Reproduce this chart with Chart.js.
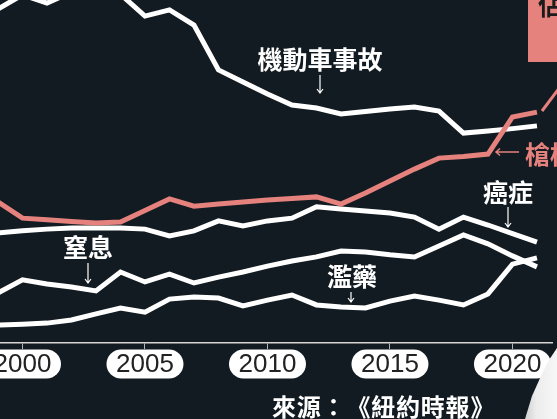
<!DOCTYPE html>
<html>
<head>
<meta charset="utf-8">
<script src="https://cdn.jsdelivr.net/npm/chart.js@4"></script>
<style>
  html, body { margin: 0; padding: 0; background: #121b21; overflow: hidden; }
  #wrap { width: 557px; height: 419px; position: relative; }
</style>
</head>
<body>
<div id="wrap"><canvas id="c"></canvas></div>
<script>
// child death rates, per 100k
const years = [1999, 2000, 2001, 2002, 2003, 2004, 2005, 2006, 2007, 2008, 2009, 2010,
               2011, 2012, 2013, 2014, 2015, 2016, 2017, 2018, 2019, 2020, 2021];
const tickYears = [2000, 2005, 2010, 2015, 2020];

const guns         = [4.11, 3.64, 3.59, 3.54, 3.50, 3.53, 3.86, 4.20, 3.99, 4.05, 4.11, 4.17,
                      4.21, 4.26, 4.05, 4.37, 4.72, 5.07, 5.39, 5.44, 5.51, 6.59, 6.73];
const motorVehicle = [9.74, 10.15, 9.91, 10.23, 10.35, 10.17, 9.53, 9.71, 9.27, 7.96, 7.61, 7.26,
                      6.94, 6.85, 6.68, 6.75, 6.82, 6.88, 6.76, 6.12, 6.18, 6.25, 6.33];
const cancer       = [3.21, 3.27, 3.32, 3.35, 3.35, 3.35, 3.32, 3.12, 3.27, 3.56, 3.41, 3.56,
                      3.64, 3.97, 3.91, 3.85, 3.79, 3.67, 3.32, 3.67, 3.44, 3.19, 2.94];
const suffocation  = [1.46, 1.84, 1.72, 1.63, 1.52, 2.07, 1.78, 2.01, 1.75, 1.92, 2.07, 2.24,
                      2.39, 2.51, 2.68, 2.65, 2.57, 2.51, 2.83, 3.15, 2.89, 2.54, 2.22];
const overdose     = [0.52, 0.55, 0.58, 0.67, 0.85, 1.02, 0.90, 1.28, 1.34, 1.31, 1.08, 1.25,
                      1.40, 1.11, 1.05, 1.02, 1.22, 1.37, 1.25, 1.11, 1.43, 2.30, 2.48];

const BG = '#121b21';
const PINK = '#e5827d';
const CJK = '"Noto Sans CJK TC", "Noto Sans CJK SC", sans-serif';

const pts = vals => years.map((y, i) => ({ x: y, y: vals[i] }));
const ds = (vals, color) => ({ data: pts(vals), borderColor: color, borderWidth: 5,
    pointRadius: 0, tension: 0, borderJoinStyle: 'miter', borderCapStyle: 'butt' });

function vArrow(ctx, x, y1, y2, color) {
    ctx.strokeStyle = color; ctx.lineWidth = 1.2;
    ctx.beginPath(); ctx.moveTo(x, y1); ctx.lineTo(x, y2);
    ctx.moveTo(x - 3, y2 - 4); ctx.lineTo(x, y2); ctx.lineTo(x + 3, y2 - 4);
    ctx.stroke();
}
function label(ctx, text, x, y, color, align) {
    ctx.fillStyle = color; ctx.font = 'bold 25px ' + CJK;
    ctx.textAlign = align || 'center'; ctx.textBaseline = 'middle';
    ctx.fillText(text, x, y);
}

const decor = {
    id: 'decor',
    beforeDraw(chart) {
        const ctx = chart.ctx;
        ctx.save(); ctx.fillStyle = BG;
        ctx.fillRect(0, 0, chart.width, chart.height); ctx.restore();
    },
    afterDraw(chart) {
        const ctx = chart.ctx, xs = chart.scales.x;
        ctx.save();
        // year pills
        xs.ticks.forEach(t => {
            const cx = xs.getPixelForValue(t.value), w = 77, h = 29, cy = 364;
            ctx.fillStyle = '#ffffff';
            ctx.beginPath();
            ctx.moveTo(cx - w / 2 + h / 2, cy - h / 2);
            ctx.lineTo(cx + w / 2 - h / 2, cy - h / 2);
            ctx.arc(cx + w / 2 - h / 2, cy, h / 2, -Math.PI / 2, Math.PI / 2);
            ctx.lineTo(cx - w / 2 + h / 2, cy + h / 2);
            ctx.arc(cx - w / 2 + h / 2, cy, h / 2, Math.PI / 2, Math.PI * 1.5);
            ctx.fill();
            ctx.fillStyle = '#222';
            ctx.font = '26px "Liberation Sans", Arial, sans-serif';
            ctx.textAlign = 'center'; ctx.textBaseline = 'middle';
            ctx.fillText(String(t.value), cx, cy + 1);
        });

        // series labels
        label(ctx, '機動車事故', 320, 59, '#ffffff');
        vArrow(ctx, 320, 75, 93, '#ffffff');
        label(ctx, '癌症', 508, 192, '#ffffff');
        vArrow(ctx, 508, 207, 227, '#ffffff');
        label(ctx, '窒息', 88, 247, '#ffffff');
        vArrow(ctx, 88, 263, 283, '#ffffff');
        label(ctx, '濫藥', 352, 276, '#ffffff');
        vArrow(ctx, 351, 292, 302, '#ffffff');

        // guns label with left arrow
        label(ctx, '槍枝', 525, 154, PINK, 'left');
        ctx.strokeStyle = PINK; ctx.lineWidth = 1.5;
        ctx.beginPath(); ctx.moveTo(519, 152); ctx.lineTo(496, 152);
        ctx.moveTo(500, 148.5); ctx.lineTo(496, 152); ctx.lineTo(500, 155.5);
        ctx.stroke();

        // callout box top right
        ctx.fillStyle = PINK; ctx.fillRect(528, 0, 29, 62);
        ctx.strokeStyle = PINK; ctx.lineWidth = 3;
        ctx.beginPath(); ctx.moveTo(542, 111); ctx.lineTo(560, 87); ctx.stroke();
        ctx.fillStyle = '#1b1b1b'; ctx.font = 'bold 25px ' + CJK;
        ctx.textAlign = 'left'; ctx.textBaseline = 'alphabetic';
        ctx.fillText('佔', 538, 15);

        // source, one glyph at a time so the full-width punctuation keeps its width
        ctx.fillStyle = '#ffffff'; ctx.font = 'bold 24px ' + CJK;
        ctx.textAlign = 'center'; ctx.textBaseline = 'middle';
        Array.from('來源：《紐約時報》').forEach((ch, i) => {
            ctx.fillText(ch, 284 + i * 24.8, 407);
        });

        // light patch bottom right
        const g = ctx.createLinearGradient(522, 0, 557, 0);
        g.addColorStop(0, '#c8c8c8'); g.addColorStop(0.4, '#ececec'); g.addColorStop(1, '#f7f7f7');
        ctx.fillStyle = g;
        ctx.beginPath();
        ctx.moveTo(557, 348); ctx.lineTo(549, 360); ctx.lineTo(541, 376);
        ctx.lineTo(532, 396); ctx.lineTo(525, 419); ctx.lineTo(557, 419);
        ctx.closePath(); ctx.fill();
        ctx.restore();
    }
};

new Chart(document.getElementById('c'), {
    type: 'line',
    data: {
        datasets: [
            ds(guns, PINK),
            ds(motorVehicle, '#ffffff'),
            ds(cancer, '#ffffff'),
            ds(suffocation, '#ffffff'),
            ds(overdose, '#ffffff')
        ]
    },
    options: {
        responsive: true, maintainAspectRatio: false, animation: false,
        layout: { padding: { left: 0, right: 5, top: 0, bottom: 0 } },
        plugins: { legend: { display: false }, tooltip: { enabled: false } },
        scales: {
            x: {
                type: 'linear', min: 1999.082, max: 2021.614,
                afterBuildTicks: s => { s.ticks = tickYears.map(v => ({ value: v })); },
                afterFit: s => { s.height = 76; },
                ticks: { display: false },
                grid: { drawOnChartArea: false, drawTicks: true, tickLength: 6,
                        tickColor: '#b5b5b5', tickWidth: 1 },
                border: { display: true, color: '#d6d6d6', width: 1.5 }
            },
            y: { display: false, min: 0, max: 10 }
        }
    },
    plugins: [decor]
});
</script>
</body>
</html>
